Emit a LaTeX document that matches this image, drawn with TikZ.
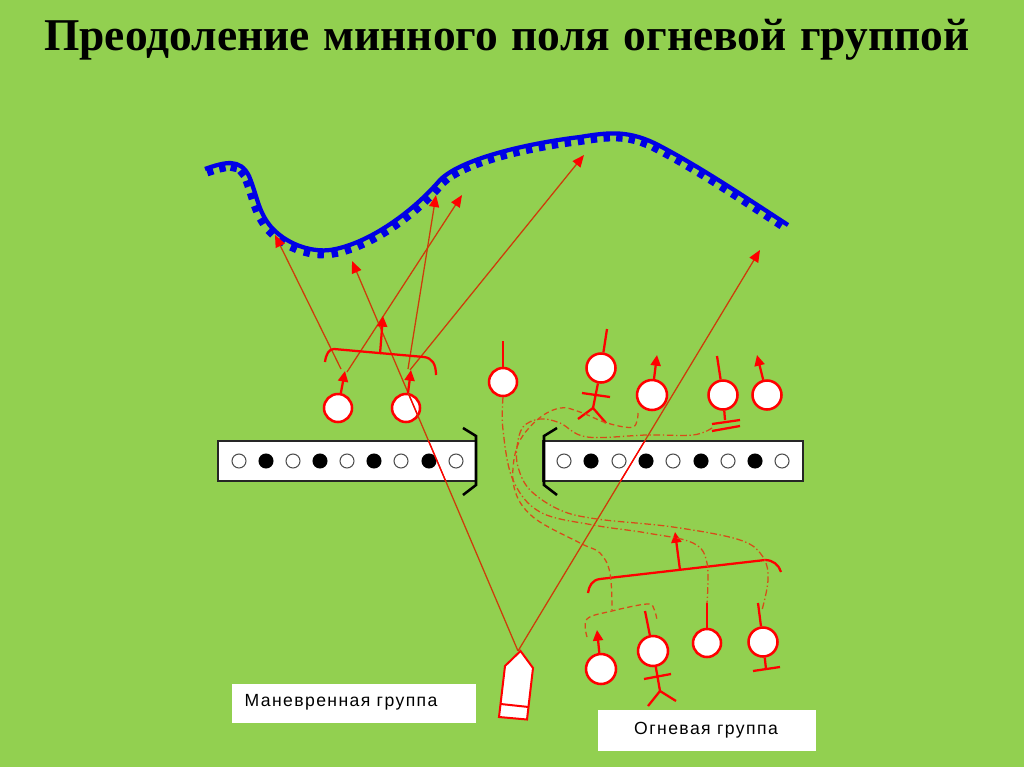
\documentclass[tikz,border=0pt]{standalone}
\usepackage{fontspec}
\setmainfont{Liberation Serif}
\newfontfamily\titlefont[WordSpace=1.2]{Liberation Serif}
\newfontfamily\labelfont[LetterSpace=8]{Liberation Sans}
\usetikzlibrary{arrows.meta,decorations.markings}
\definecolor{fieldgreen}{RGB}{146,208,80}
\definecolor{thinred}{RGB}{205,60,10}
\definecolor{dashred}{RGB}{215,75,25}
\definecolor{riverblue}{RGB}{0,0,230}
\tikzset{
  x=0.75pt,y=-0.75pt,
  soldier/.style={circle,draw=red,line width=1.9pt,fill=white,minimum size=#1*0.75pt,inner sep=0pt},
  stem/.style={draw=red,line width=1.7pt},
  stemarrow/.style={stem,-{Triangle[length=8pt,width=7.5pt,fill=red,color=red]}},
  longarrow/.style={draw=thinred,line width=0.95pt,-{Triangle[length=9pt,width=7.5pt,fill=red,color=red]}},
  whitehole/.style={circle,draw=black!70,line width=0.8pt,fill=white,minimum size=10.5pt,inner sep=0pt},
  blackhole/.style={circle,draw=black,line width=0.8pt,fill=black,minimum size=10.5pt,inner sep=0pt},
  stripbox/.style={draw=black!85,line width=1.1pt,fill=white},
  gapmark/.style={draw=black,line width=1.9pt},
  routedash/.style={draw=dashred,line width=0.95pt,dash pattern=on 4pt off 2.5pt},
  routedot/.style={draw=dashred,line width=0.95pt,dash pattern=on 5pt off 2pt on 1pt off 2pt},
  river/.style={draw=riverblue,line width=3.2pt,postaction={decorate,decoration={markings,
    mark=between positions 0.006 and 1 step 9.9pt with {\fill[riverblue] (-2.4pt,0pt) rectangle (2.4pt,-6pt);}}}}
}
\begin{document}
\begin{tikzpicture}
\useasboundingbox (0,0) rectangle (1024,767);
\fill[fieldgreen] (0,0) rectangle (1024,767);
\node[font=\titlefont\fontsize{34.1pt}{36pt}\selectfont\bfseries] (title) at (507,39.5) {Преодоление минного поля огневой группой};

% river
\draw[river] (205,169) .. controls (225,162) and (240,158) .. (249,176)
  .. controls (258,198) and (258,212) .. (272,228) .. controls (290,247) and (315,252) .. (330,250)
  .. controls (365,245) and (410,215) .. (440,180) .. controls (462,158) and (530,143) .. (580,137)
  .. controls (610,132) and (630,130) .. (660,146) .. controls (700,167) and (745,197) .. (788,225);

% strips
\draw[stripbox] (218,441) rectangle (476,481);
\draw[stripbox] (543,441) rectangle (803,481);
\foreach \n/\x/\s in {a/239/whitehole,b/266/blackhole,c/293/whitehole,d/320/blackhole,e/347/whitehole,f/374/blackhole,g/401/whitehole,h/429/blackhole,i/456/whitehole,
  j/564/whitehole,k/591/blackhole,l/619/whitehole,m/646/blackhole,n/673/whitehole,o/701/blackhole,p/728/whitehole,q/755/blackhole,r/782/whitehole}
  \node[\s] (hole\n) at (\x,461) {};
\draw[gapmark] (463,428) -- (476,436) -- (476,485) -- (463,495);
\draw[gapmark] (557,428) -- (544,436) -- (544,485) -- (557,495);

% legend boxes
\fill[white] (232,684) rectangle (476,723);
\fill[white] (598,710) rectangle (816,751);
\node[font=\labelfont\fontsize{13.2pt}{15pt}\selectfont] (legendA) at (341,702) {Маневренная группа};
\node[font=\labelfont\fontsize{13.2pt}{15pt}\selectfont] (legendB) at (706,730) {Огневая группа};

% soldiers
\node[soldier=28] (m1) at (338,408) {};
\node[soldier=28] (m2) at (406,408) {};
\node[soldier=28] (f1) at (503,382) {};
\node[soldier=29] (f2) at (601,368) {};
\node[soldier=30] (f3) at (652,395) {};
\node[soldier=29] (f4) at (723,395) {};
\node[soldier=29] (f5) at (767,395) {};
\node[soldier=30] (g1) at (601,669) {};
\node[soldier=30] (g2) at (653,651) {};
\node[soldier=28] (g3) at (707,643) {};
\node[soldier=29] (g4) at (763,642) {};

% ship
\node[draw=none,inner sep=0pt,minimum size=0pt] (shipnose) at (518,651) {};
\draw[draw=red,line width=1.5pt,fill=white] (520.5,651) -- (533,668) -- (527,719.5) -- (499,717) -- (505,666) -- cycle;
\draw[draw=red,line width=1.5pt] (500.7,704) -- (528.7,707);

% coordinates
\coordinate (tipA) at (352,261);
\coordinate (tipB) at (760,250);
\coordinate (tipC) at (275,235);
\coordinate (tipD) at (436,195);
\coordinate (tipE) at (462,195);
\coordinate (tipF) at (584,155);
\coordinate (bA) at (341,369);
\coordinate (bB) at (347,372);
\coordinate (bC) at (408,369);
\coordinate (bD) at (410,370);

% long arrows
\draw[longarrow] (shipnose) -- (tipA);
\draw[longarrow] (shipnose) -- (tipB);
\begin{scope}
  \clip (218,441) rectangle (476,481) (543,441) rectangle (803,481);
  \draw[red,line width=0.95pt] (shipnose) -- (tipA);
  \draw[red,line width=0.95pt] (shipnose) -- (tipB);
\end{scope}
\begin{scope}
  \clip (406,408) circle (13);
  \draw[red,line width=0.95pt] (shipnose) -- (tipA);
\end{scope}
\draw[longarrow] (bA) -- (tipC);
\draw[longarrow] (bB) -- (tipE);
\draw[longarrow] (bC) -- (tipD);
\draw[longarrow] (bD) -- (tipF);

% manoeuvre group bracket
\draw[draw=red,line width=1.7pt] (325,362) .. controls (326,354) and (329,349) .. (334,349) -- (424,357) .. controls (432,358) and (436,364) .. (436,375);
\coordinate (mstem) at (380,354);
\coordinate (mtip) at (383,316);
\draw[stemarrow] (mstem) -- (mtip);
\coordinate (m1t) at (345,371);
\coordinate (m2t) at (411,370);
\draw[stemarrow] (m1) -- (m1t);
\draw[stemarrow] (m2) -- (m2t);

% fire group upper stems
\coordinate (f1t) at (503,341);
\coordinate (f2t) at (607,329);
\coordinate (f3t) at (657,355);
\coordinate (f4t) at (717,356);
\coordinate (f5t) at (757,355);
\draw[stem] (f1) -- (f1t);
\draw[stem] (f2) -- (f2t);
\draw[stemarrow] (f3) -- (f3t);
\draw[stem] (f4) -- (f4t);
\draw[stemarrow] (f5) -- (f5t);
\coordinate (f2hip) at (593,408);
\draw[stem] (f2) -- (f2hip);
\draw[stem] (582,393) -- (610,397);
\draw[stem] (578,419) -- (f2hip) -- (606,423);
\coordinate (f4foot) at (725,420);
\draw[stem] (f4) -- (f4foot);
\draw[stem] (712,424) -- (740,420);
\draw[stem] (712,431) -- (740,426);

% fire group lower bracket
\draw[draw=red,line width=1.7pt] (588,593) .. controls (589,586) and (592,580) .. (600,579) -- (765,560) .. controls (773,560) and (779,565) .. (781,572);
\coordinate (gstem) at (680,570);
\coordinate (gtip) at (675,532);
\draw[stemarrow] (gstem) -- (gtip);
\coordinate (g1t) at (597,630);
\coordinate (g2t) at (645,611);
\coordinate (g3t) at (707,603);
\coordinate (g4t) at (758,603);
\draw[stemarrow] (g1) -- (g1t);
\draw[stem] (g2) -- (g2t);
\draw[stem] (g3) -- (g3t);
\draw[stem] (g4) -- (g4t);
\coordinate (g2hip) at (660,691);
\draw[stem] (g2) -- (g2hip);
\draw[stem] (644,679) -- (671,674);
\draw[stem] (648,706) -- (g2hip) -- (676,701);
\coordinate (g4foot) at (766,669);
\draw[stem] (g4) -- (g4foot);
\draw[stem] (753,671) -- (780,667);

% routes
\draw[routedash] plot[smooth,tension=0.6] coordinates {(638,413) (633,427) (607,423) (580,412) (560,408) (537,420) (517,447) (514,487) (533,517) (580,543) (600,553) (610,573) (612,610)};
\draw[routedash] plot[smooth,tension=0.6] coordinates {(587,637) (587,619) (612,611) (647,604) (654,609) (657,620)};
\draw[routedot] plot[smooth,tension=0.6] coordinates {(503,397) (503,430) (513,480) (540,512) (593,525) (647,533) (693,543) (707,563) (707,603)};
\draw[routedot] plot[smooth,tension=0.6] coordinates {(712,428) (693,435) (647,435) (587,437) (560,423) (540,419) (523,427) (517,447) (518,467) (530,490) (560,510) (597,519) (673,527) (740,540) (763,557) (768,580) (762,610)};
\end{tikzpicture}
\end{document}
